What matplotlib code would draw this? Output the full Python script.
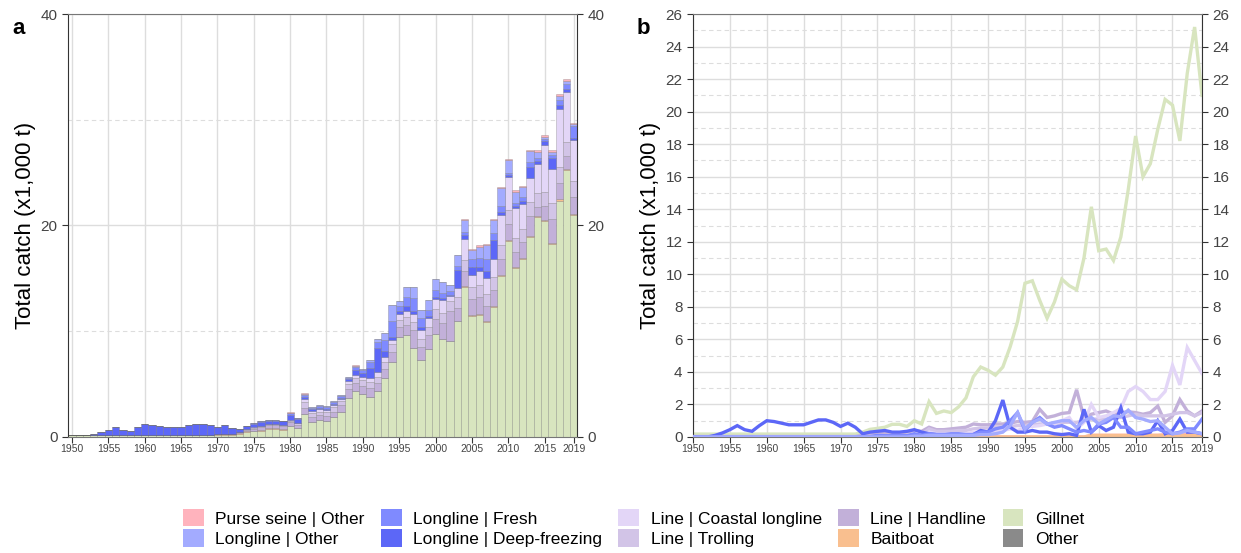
import matplotlib
matplotlib.use("Agg")
import matplotlib.pyplot as plt
import numpy as np
from matplotlib.patches import Patch
from matplotlib.ticker import MultipleLocator, FixedLocator

plt.rcParams["font.family"] = ["Liberation Sans", "DejaVu Sans"]

years = np.arange(1950, 2020)

# catch by gear, thousand tonnes
gillnet = [0.18] * 23 + [
    0.3, 0.47, 0.53, 0.6, 0.78, 0.78, 0.65, 1.0, 0.8, 2.17,
    1.45, 1.6, 1.5, 1.85, 2.4, 3.7, 4.3, 4.1, 3.8, 4.3,
    5.55, 7.1, 9.45, 9.6, 8.4, 7.3, 8.3, 9.7, 9.3, 9.05,
    11.0, 14.15, 11.45, 11.55, 10.85, 12.3, 15.2, 18.5, 16.0, 16.8,
    18.9, 20.75, 20.4, 18.2, 22.35, 25.2, 21.0]

handline = [0.03] * 23 + [
    0.1, 0.15, 0.2, 0.25, 0.25, 0.25, 0.3, 0.4, 0.35, 0.6,
    0.45, 0.45, 0.5, 0.55, 0.6, 0.8, 0.75, 0.75, 0.8, 0.8,
    0.85, 0.95, 0.9, 0.95, 1.7, 1.2, 1.3, 1.45, 1.5, 2.9,
    1.2, 1.4, 1.5, 1.6, 1.4, 1.5, 1.55, 1.5, 1.4, 1.5,
    1.9, 0.9, 1.3, 2.3, 1.6, 1.3, 1.6]

trolling = [0.0] * 23 + [
    0.05, 0.05, 0.1, 0.1, 0.1, 0.1, 0.1, 0.15, 0.15, 0.5,
    0.35, 0.35, 0.35, 0.4, 0.4, 0.5, 0.55, 0.55, 0.6, 0.6,
    0.65, 0.7, 0.7, 0.75, 0.8, 0.8, 0.8, 0.9, 0.9, 0.9,
    1.0, 1.1, 1.1, 1.1, 1.2, 1.2, 1.3, 1.4, 1.3, 1.3,
    1.3, 1.3, 1.4, 1.5, 1.5, 1.3, 1.5]

coastal = [0.0] * 23 + [
    0.0, 0.0, 0.02, 0.02, 0.02, 0.02, 0.02, 0.05, 0.05, 0.3,
    0.2, 0.2, 0.2, 0.2, 0.2, 0.3, 0.3, 0.3, 0.35, 0.4,
    0.5, 0.4, 0.6, 0.65, 0.7, 0.8, 0.8, 1.0, 1.2, 0.5,
    0.9, 2.0, 1.2, 1.3, 1.5, 1.75, 2.8, 3.1, 2.8, 2.3,
    2.3, 2.8, 4.4, 3.2, 5.5, 4.7, 3.9]

deep_freezing = [
    0.0, 0.0, 0.0, 0.1, 0.25, 0.45, 0.7, 0.45, 0.35, 0.7,
    1.0, 0.95, 0.85, 0.75, 0.75, 0.75, 0.9, 1.05, 1.05, 0.9,
    0.65, 0.85, 0.6,
    0.2, 0.3, 0.35, 0.4, 0.3, 0.3, 0.35, 0.45, 0.3, 0.2,
    0.15, 0.15, 0.1, 0.1, 0.1, 0.15, 0.4, 0.3, 1.0, 2.27,
    0.6, 0.3, 0.3, 0.4, 0.3, 0.3, 0.2, 0.15, 0.2, 0.1,
    1.7, 0.3, 0.7, 0.4, 0.6, 1.8, 0.3, 0.2, 0.2, 0.3,
    1.0, 0.2, 0.4, 1.1, 0.3, 0.3, 0.2]

fresh = [0.0] * 23 + [
    0.02, 0.03, 0.1, 0.08, 0.08, 0.08, 0.08, 0.2, 0.1, 0.2,
    0.15, 0.15, 0.2, 0.2, 0.15, 0.15, 0.3, 0.3, 0.5, 0.6,
    1.0, 1.5, 0.4, 0.9, 1.2, 0.8, 0.6, 0.7, 0.5, 0.3,
    0.4, 0.3, 0.8, 0.9, 1.2, 0.6, 0.6, 0.2, 0.3, 0.4,
    0.5, 0.3, 0.2, 0.3, 0.5, 0.5, 1.1]

longline_other = [0.0] * 23 + [
    0.0, 0.0, 0.0, 0.0, 0.0, 0.0, 0.0, 0.05, 0.05, 0.1,
    0.1, 0.1, 0.1, 0.1, 0.1, 0.1, 0.15, 0.15, 0.2, 0.3,
    0.7, 1.5, 0.5, 0.9, 1.1, 0.8, 0.9, 1.0, 1.0, 0.6,
    1.0, 1.2, 0.8, 1.05, 1.3, 1.25, 1.65, 1.2, 1.1, 0.95,
    1.0, 0.6, 0.2, 0.25, 0.4, 0.3, 0.2]

purse_seine = [0.0] * 30 + [
    0.05, 0.0, 0.08, 0.0, 0.0, 0.0, 0.0, 0.0, 0.0, 0.05,
    0.0, 0.03, 0.0, 0.0, 0.0, 0.0, 0.0, 0.0, 0.0, 0.0,
    0.0, 0.0, 0.0, 0.0, 0.1, 0.1, 0.1, 0.1, 0.1, 0.1,
    0.1, 0.1, 0.1, 0.1, 0.15, 0.15, 0.15, 0.15, 0.15, 0.1]

baitboat = [0.0] * 20 + [0.05] * 10 + [0.0] * 24 + [0.1] * 16

other = [0.01] * 70

gears = ["Purse seine | Other", "Longline | Other", "Longline | Fresh",
         "Longline | Deep-freezing", "Line | Coastal longline", "Line | Trolling",
         "Line | Handline", "Baitboat", "Gillnet", "Other"]
series = [purse_seine, longline_other, fresh, deep_freezing, coastal, trolling,
          handline, baitboat, gillnet, other]
colors = ["#ffb3bd", "#a3abff", "#7f8aff", "#5c67f7", "#e3d6f7", "#d2c4e7",
          "#c2b0d9", "#f9bf8f", "#d8e5bf", "#8a8a8a"]
# drawing order of the lines in panel b (small gears underneath)
line_z = [1.2, 3, 3, 3, 3, 3, 3, 1.3, 2, 1.1]

fig = plt.figure(figsize=(12.41, 5.53), dpi=100)
ax1 = fig.add_axes([68 / 1241, 116 / 553, 509 / 1241, 423 / 553])
ax2 = fig.add_axes([693 / 1241, 116 / 553, 509 / 1241, 423 / 553])


def style_axis(ax, ymax, ystep):
    ax.set_ylim(0, ymax)
    ax.yaxis.set_major_locator(MultipleLocator(ystep))
    ax.yaxis.set_minor_locator(MultipleLocator(ystep / 2))
    ax.xaxis.set_major_locator(FixedLocator(list(range(1950, 2016, 5)) + [2019]))
    ax.grid(which="major", axis="both", color="#dddddd", lw=1.0)
    ax.grid(which="minor", axis="y", color="#dddddd", lw=0.8, ls=(0, (4, 3)))
    ax.set_axisbelow(True)
    ax.tick_params(axis="y", which="major", labelsize=11, labelcolor="#444444",
                   color="#333333", length=4, right=True, labelright=True)
    ax.tick_params(axis="y", which="minor", length=0)
    ax.tick_params(axis="x", labelsize=7.5, labelcolor="#444444",
                   color="#333333", length=4, pad=1)
    for side in ["left", "right"]:
        ax.spines[side].set_color("#333333")
    for side in ["top", "bottom"]:
        ax.spines[side].set_color("#777777")
    ax.set_ylabel("Total catch (x1,000 t)", fontsize=16, labelpad=3)


# panel a: stacked bars, bottom of the stack is the last gear
bottom = np.zeros(len(years))
for name, vals, col in reversed(list(zip(gears, series, colors))):
    vals = np.array(vals)
    ax1.bar(years, vals, width=1.0, bottom=bottom, color=col,
            edgecolor=(0.35, 0.35, 0.35, 0.35), linewidth=0.5)
    bottom += vals
ax1.set_xlim(1949.45, 2019.45)
style_axis(ax1, 40, 20)

# panel b: one line per gear
for name, vals, col, z in reversed(list(zip(gears, series, colors, line_z))):
    ax2.plot(years, vals, color=col, lw=2.4, solid_joinstyle="miter", zorder=z)
ax2.set_xlim(1950, 2019)
style_axis(ax2, 26, 2)

fig.text(12 / 1241, 1 - 28 / 553, "a", fontsize=16, fontweight="bold", va="center")
fig.text(637 / 1241, 1 - 28 / 553, "b", fontsize=16, fontweight="bold", va="center")

handles = [Patch(facecolor=c, edgecolor="none") for c in colors]
fig.legend(handles, gears, ncol=5, loc="center", bbox_to_anchor=(0.5104, 1 - 528 / 553),
           frameon=False, fontsize=12.5, handlelength=1.2, handleheight=1.15,
           handletextpad=0.65, columnspacing=0.95, labelspacing=0.15)

fig.savefig("out.png", dpi=100)
